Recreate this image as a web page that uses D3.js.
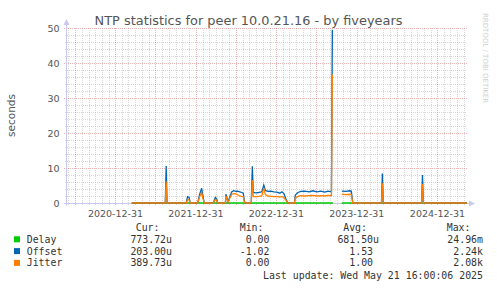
<!DOCTYPE html>
<html><head><meta charset="utf-8">
<script src="https://cdn.jsdelivr.net/npm/d3@7"></script>
<style>html,body{margin:0;padding:0;background:#fff;} svg{display:block}</style>
</head><body><svg id="c" width="497" height="288"></svg>
<script>
const title = "NTP statistics for peer 10.0.21.16 - by fiveyears";
const yLabel = "seconds";
const watermark = "RRDTOOL / TOBI OETIKER";
const yTicks = [0, 10, 20, 30, 40, 50];
const xTickDates = ["2021-01-01", "2022-01-01", "2023-01-01", "2024-01-01", "2025-01-01"];
const xTickLabels = ["2020-12-31", "2021-12-31", "2022-12-31", "2023-12-31", "2024-12-31"];
const timeDomain = ["2020-05-26", "2025-05-15"];

const delaySeries = [
  ["2021-03-16", 0.0007], ["2023-09-15", 0.0007], ["2023-09-16", null],
  ["2023-10-25", 0.0007], ["2025-05-15", 0.0007]
];
const offsetSeries = [
  ["2021-03-16", 0], ["2021-08-15", 0], ["2021-08-19", 10.6], ["2021-08-23", 0],
  ["2021-11-18", 0], ["2021-11-24", 1.8], ["2021-12-01", 1.6], ["2021-12-06", 0],
  ["2022-01-09", 0], ["2022-01-18", 2.5], ["2022-01-27", 4.2], ["2022-02-02", 2.0], ["2022-02-08", 0],
  ["2022-03-21", 0], ["2022-03-30", 1.6], ["2022-04-05", 1.2], ["2022-04-09", 0],
  ["2022-05-15", 0], ["2022-05-17", 2.5], ["2022-05-27", 0.3], ["2022-06-05", 2.0], ["2022-06-13", 3.2],
  ["2022-06-22", 3.5], ["2022-07-01", 3.3], ["2022-07-10", 3.4], ["2022-07-19", 3.2], ["2022-07-28", 3.0],
  ["2022-08-04", 2.8], ["2022-08-09", 0.5], ["2022-08-13", 0],
  ["2022-09-09", 0], ["2022-09-14", 10.5], ["2022-09-18", 3.0], ["2022-09-30", 2.9], ["2022-10-13", 3.0],
  ["2022-10-27", 3.2], ["2022-11-05", 5.1], ["2022-11-12", 3.6], ["2022-11-24", 3.3], ["2022-12-07", 3.4],
  ["2022-12-21", 3.2], ["2023-01-03", 3.1], ["2023-01-17", 2.8], ["2023-01-26", 3.2], ["2023-02-04", 2.7],
  ["2023-02-13", 1.2], ["2023-02-22", 0], ["2023-03-24", 0], ["2023-03-28", 2.3], ["2023-04-09", 3.0],
  ["2023-04-22", 3.3], ["2023-05-10", 3.4], ["2023-05-29", 3.2], ["2023-06-16", 3.5], ["2023-07-04", 3.2],
  ["2023-07-22", 3.4], ["2023-08-09", 3.1], ["2023-08-23", 3.4], ["2023-09-08", 3.2], ["2023-09-12", 49.3],
  ["2023-09-15", 49.3], ["2023-09-16", null],
  ["2023-10-25", 3.4], ["2023-11-12", 3.3], ["2023-11-30", 3.5], ["2023-12-07", 3.4], ["2023-12-14", 0],
  ["2024-04-22", 0], ["2024-04-26", 8.4], ["2024-04-30", 0],
  ["2024-10-21", 0], ["2024-10-25", 8.0], ["2024-10-29", 0], ["2025-05-15", 0]
];
const jitterSeries = [
  ["2021-03-16", 0], ["2021-08-15", 0], ["2021-08-19", 6.1], ["2021-08-23", 0],
  ["2021-11-18", 0], ["2021-11-24", 1.0], ["2021-12-01", 0.9], ["2021-12-06", 0],
  ["2022-01-09", 0], ["2022-01-18", 1.8], ["2022-01-27", 3.0], ["2022-02-02", 1.2], ["2022-02-08", 0],
  ["2022-03-21", 0], ["2022-03-30", 1.0], ["2022-04-05", 0.8], ["2022-04-09", 0],
  ["2022-05-15", 0], ["2022-05-17", 2.0], ["2022-05-27", 0.2], ["2022-06-05", 1.5], ["2022-06-13", 2.5],
  ["2022-06-22", 2.7], ["2022-07-01", 2.6], ["2022-07-10", 2.3], ["2022-07-19", 2.0], ["2022-07-28", 1.9],
  ["2022-08-04", 1.8], ["2022-08-09", 0.3], ["2022-08-13", 0],
  ["2022-09-09", 0], ["2022-09-14", 6.5], ["2022-09-18", 1.8], ["2022-09-30", 1.8], ["2022-10-13", 1.9],
  ["2022-10-27", 2.0], ["2022-11-05", 4.3], ["2022-11-12", 2.4], ["2022-11-24", 2.0], ["2022-12-07", 1.9],
  ["2022-12-21", 1.8], ["2023-01-03", 1.9], ["2023-01-17", 1.7], ["2023-01-26", 1.9], ["2023-02-04", 1.6],
  ["2023-02-13", 0.8], ["2023-02-22", 0], ["2023-03-24", 0], ["2023-03-28", 1.4], ["2023-04-09", 1.9],
  ["2023-04-22", 2.1], ["2023-05-10", 2.0], ["2023-05-29", 2.1], ["2023-06-16", 2.2], ["2023-07-04", 2.0],
  ["2023-07-22", 2.1], ["2023-08-09", 2.0], ["2023-08-23", 2.2], ["2023-09-08", 2.1], ["2023-09-12", 36.5],
  ["2023-09-15", 36.5], ["2023-09-16", null],
  ["2023-10-25", 2.5], ["2023-11-12", 2.4], ["2023-11-30", 2.5], ["2023-12-07", 2.4], ["2023-12-14", 0],
  ["2024-04-22", 0], ["2024-04-26", 5.6], ["2024-04-30", 0],
  ["2024-10-21", 0], ["2024-10-25", 5.4], ["2024-10-29", 0], ["2025-05-15", 0]
];

const legendNames = ["Delay", "Offset", "Jitter"];
const legendColors = ["#00cc00", "#0066b3", "#ff8000"];
const legendHeaders = ["Cur:", "Min:", "Avg:", "Max:"];
const curVals = ["773.72u", "203.00u", "389.73u"];
const minVals = ["0.00", "-1.02", "0.00"];
const avgVals = ["681.50u", "1.53 ", "1.00 "];
const maxVals = ["24.96m", "2.24k", "2.08k"];
const lastUpdate = "Last update: Wed May 21 16:00:06 2025";

const svg = d3.select("#c");
const parse = d3.utcParse("%Y-%m-%d");
const L = 67, R = 467, T = 28, B = 203;
const x = d3.scaleUtc().domain(timeDomain.map(parse)).range([L, R]);
const y = d3.scaleLinear().domain([0, 50]).range([B, T]);
const px = v => Math.round(v) + 0.5;

// grid
const g = svg.append("g");
const months = d3.utcMonth.range(x.domain()[0], x.domain()[1]);
const minorX = months.filter(m => m.getUTCMonth() % 6 !== 0);
const majorX = months.filter(m => m.getUTCMonth() % 6 === 0);
const minorY = d3.range(0, 51, 2).filter(v => v % 10 !== 0);
const minorCol = "rgba(150,150,150,0.38)", majorCol = "rgba(215,90,90,0.45)";
g.selectAll(".mx").data(minorX).join("line")
  .attr("x1", d => px(x(d))).attr("x2", d => px(x(d))).attr("y1", T).attr("y2", B + 2)
  .attr("stroke", minorCol).attr("stroke-dasharray", "1,1");
g.selectAll(".my").data(minorY).join("line")
  .attr("x1", L - 2).attr("x2", R).attr("y1", d => px(y(d))).attr("y2", d => px(y(d)))
  .attr("stroke", minorCol).attr("stroke-dasharray", "1,1");
g.selectAll(".Mx").data(majorX).join("line")
  .attr("x1", d => px(x(d))).attr("x2", d => px(x(d))).attr("y1", T).attr("y2", B + 3)
  .attr("stroke", majorCol).attr("stroke-dasharray", "1,1");
g.selectAll(".My").data(yTicks).join("line")
  .attr("x1", L - 3).attr("x2", R).attr("y1", d => px(y(d))).attr("y2", d => px(y(d)))
  .attr("stroke", majorCol).attr("stroke-dasharray", "1,1");

// axes lines with arrows
const axCol = "#c8c8f0";
svg.append("line").attr("x1", L - 0.5).attr("x2", L - 0.5).attr("y1", B + 3).attr("y2", T - 6)
  .attr("stroke", axCol);
svg.append("path").attr("d", `M${L - 3.5},${T - 3} L${L - 0.5},${T - 9} L${L + 2.5},${T - 3} Z`).attr("fill", axCol);
svg.append("line").attr("x1", L - 3).attr("x2", R + 4).attr("y1", B + 0.5).attr("y2", B + 0.5)
  .attr("stroke", axCol);
svg.append("path").attr("d", `M${R + 2},${B - 2.5} L${R + 8},${B + 0.5} L${R + 2},${B + 3.5} Z`).attr("fill", axCol);

// tick labels
const labCol = "#555";
svg.selectAll(".yl").data(yTicks).join("text")
  .attr("x", 59.5).attr("y", d => y(d) + 3.5).attr("text-anchor", "end")
  .attr("font-family", "DejaVu Sans").attr("font-size", 9.5).attr("fill", labCol).text(d => d);
svg.selectAll(".xl").data(xTickDates).join("text")
  .attr("x", d => x(parse(d))).attr("y", 217).attr("text-anchor", "middle")
  .attr("font-family", "DejaVu Sans").attr("font-size", 9.5).attr("fill", labCol)
  .text((d, i) => xTickLabels[i]);

// titles
svg.append("text").attr("x", 248.5).attr("y", 24.5).attr("text-anchor", "middle")
  .attr("font-family", "DejaVu Sans").attr("font-size", 12.9).attr("fill", "#555").text(title);
svg.append("text").attr("transform", "translate(15,115.5) rotate(-90)").attr("text-anchor", "middle")
  .attr("font-family", "DejaVu Sans").attr("font-size", 10.5).attr("fill", "#555").text(yLabel);
svg.append("text").attr("transform", "translate(483,13) rotate(90)")
  .attr("font-family", "DejaVu Sans").attr("font-size", 7).attr("fill", "#cfcfcf").text(watermark);

// lines
const line = d3.line().defined(d => d[1] != null).x(d => x(parse(d[0]))).y(d => y(d[1]));
[[delaySeries, legendColors[0]], [offsetSeries, legendColors[1]], [jitterSeries, legendColors[2]]].forEach(([s, c]) => {
  svg.append("path").attr("d", line(s)).attr("fill", "none").attr("stroke", c).attr("stroke-width", 1.3)
    .attr("stroke-linejoin", "miter");
});

// legend
const mono = "DejaVu Sans Mono", fs = 9.9, cw = 5.96;
const lg = svg.append("g").attr("font-family", mono).attr("font-size", fs).attr("fill", "#333");
const headerEnds = [159.5, 263.5, 367, 470.5];
const colEnds = [172, 269.5, 379, 483];
legendHeaders.forEach((h, i) => lg.append("text").attr("x", headerEnds[i]).attr("y", 231).attr("text-anchor", "end").text(h));
const cols = [curVals, minVals, avgVals, maxVals];
legendNames.forEach((n, r) => {
  const by = 242.8 + r * 11.8;
  lg.append("rect").attr("x", 14).attr("y", by - 6.5).attr("width", 6).attr("height", 6).attr("fill", legendColors[r]);
  lg.append("text").attr("x", 26.7).attr("y", by).text(n);
  cols.forEach((vals, c) => {
    const s = vals[r];
    const trail = s.length - s.trimEnd().length;
    lg.append("text").attr("x", colEnds[c] - trail * cw).attr("y", by).attr("text-anchor", "end").text(s.trimEnd());
  });
});
lg.append("text").attr("x", 483).attr("y", 278.5).attr("text-anchor", "end").text(lastUpdate);
</script></body></html>
